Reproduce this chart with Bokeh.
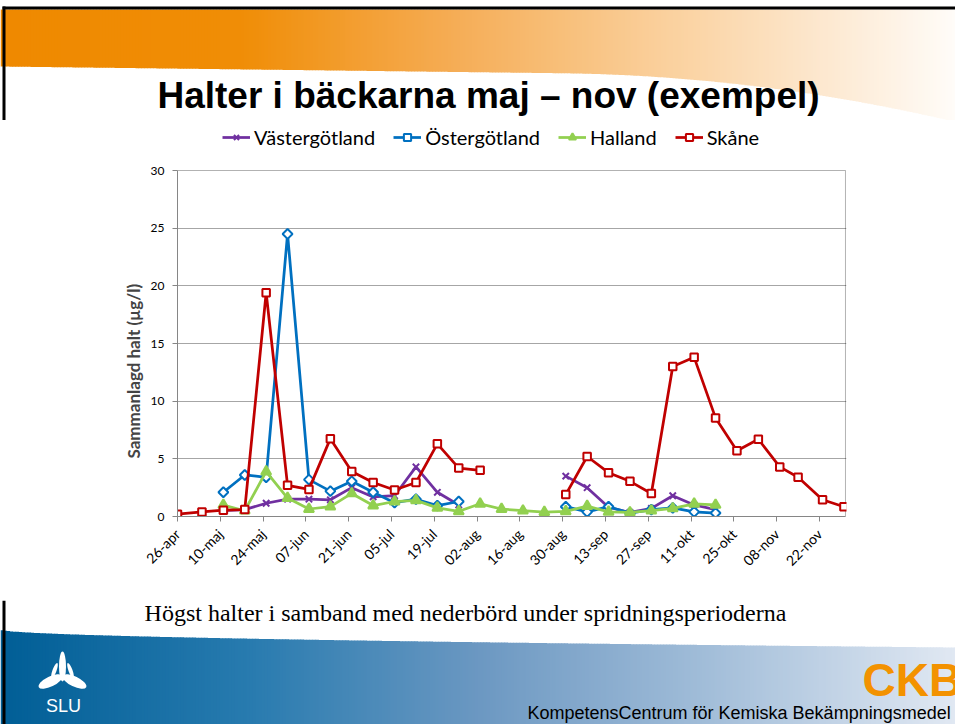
import math
import numpy as np
import pandas as pd
from bokeh.plotting import figure
from bokeh.models import Range1d, FixedTicker, Legend, LegendItem, Title, BoxAnnotation
from bokeh.embed import file_html
from bokeh.resources import INLINE
from bokeh.core.properties import value

# ---------------- data ----------------
title_text = "Halter i bäckarna maj – nov (exempel)"
caption_text = "Högst halter i samband med nederbörd under spridningsperioderna"
y_label = "Sammanlagd halt (µg/l)"

tick_dates = ["2009-04-26", "2009-05-10", "2009-05-24", "2009-06-07", "2009-06-21",
              "2009-07-05", "2009-07-19", "2009-08-02", "2009-08-16", "2009-08-30",
              "2009-09-13", "2009-09-27", "2009-10-11", "2009-10-25", "2009-11-08",
              "2009-11-22"]
tick_labels = ["26-apr", "10-maj", "24-maj", "07-jun", "21-jun", "05-jul", "19-jul",
               "02-aug", "16-aug", "30-aug", "13-sep", "27-sep", "11-okt", "25-okt",
               "08-nov", "22-nov"]
y_ticks = [0, 5, 10, 15, 20, 25, 30]
y_max = 30

vg_dates = ["2009-05-11", "2009-05-18", "2009-05-25", "2009-06-01", "2009-06-08",
            "2009-06-15", "2009-06-22", "2009-06-29", "2009-07-06", "2009-07-13",
            "2009-07-20", "2009-07-27", "2009-08-14", "2009-08-31", "2009-09-07",
            "2009-09-14", "2009-09-21", "2009-09-28", "2009-10-05", "2009-10-12",
            "2009-10-19"]
vastergotland = [0.5, 0.6, 1.15, 1.5, 1.5, 1.45, 2.5, 1.7, 1.8, 4.3, 2.1, 1.0,
                 None, 3.5, 2.5, 0.8, 0.35, 0.7, 1.8, 1.0, 0.6]

og_dates = vg_dates
ostergotland = [2.1, 3.6, 3.4, 24.5, 3.2, 2.2, 3.05, 2.1, 1.2, 1.5, 0.95, 1.3,
                None, 0.85, 0.4, 0.85, 0.3, 0.6, 0.75, 0.4, 0.3]

ha_dates = ["2009-05-11", "2009-05-18", "2009-05-25", "2009-06-01", "2009-06-08",
            "2009-06-15", "2009-06-22", "2009-06-29", "2009-07-06", "2009-07-13",
            "2009-07-20", "2009-07-27", "2009-08-03", "2009-08-10", "2009-08-17",
            "2009-08-24", "2009-08-31", "2009-09-07", "2009-09-14", "2009-09-21",
            "2009-09-28", "2009-10-05", "2009-10-12", "2009-10-19"]
halland = [1.0, 0.5, 3.9, 1.6, 0.65, 0.85, 2.0, 0.95, 1.3, 1.4, 0.75, 0.45, 1.1,
           0.65, 0.5, 0.38, 0.45, 0.9, 0.4, 0.35, 0.5, 0.7, 1.1, 1.0]

sk_dates = ["2009-04-26", "2009-05-04", "2009-05-11", "2009-05-18", "2009-05-25",
            "2009-06-01", "2009-06-08", "2009-06-15", "2009-06-22", "2009-06-29",
            "2009-07-06", "2009-07-13", "2009-07-20", "2009-07-27", "2009-08-03",
            "2009-08-17", "2009-08-31", "2009-09-07", "2009-09-14", "2009-09-21",
            "2009-09-28", "2009-10-05", "2009-10-12", "2009-10-19", "2009-10-26",
            "2009-11-02", "2009-11-09", "2009-11-15", "2009-11-23", "2009-11-30"]
skane = [0.2, 0.4, 0.55, 0.6, 19.4, 2.7, 2.35, 6.75, 3.9, 2.95, 2.3, 2.95, 6.3, 4.2,
         4.0, None, 1.9, 5.2, 3.8, 3.05, 2.0, 13.0, 13.8, 8.55, 5.7, 6.7, 4.3, 3.4,
         1.45, 0.85]

W = 955
UI_FONT = "Lato"


def blank(height):
    f = figure(width=W, height=height, x_range=Range1d(0, W), y_range=Range1d(height, 0),
               output_backend="svg", toolbar_location=None, min_border=0,
               x_axis_location=None, y_axis_location=None)
    f.grid.visible = False
    f.outline_line_color = None
    f.background_fill_color = "white"
    f.border_fill_color = "white"
    return f


def interp_color(x, stops):
    for (x0, c0), (x1, c1) in zip(stops[:-1], stops[1:]):
        if x0 <= x <= x1:
            t = (x - x0) / (x1 - x0)
            c = [int(round(a + (b - a) * t)) for a, b in zip(c0, c1)]
            return "#%02x%02x%02x" % tuple(c)
    c = stops[-1][1] if x > stops[-1][0] else stops[0][1]
    return "#%02x%02x%02x" % tuple(c)


# ---------------- top banner (page y 0..120) ----------------
TOP_H = 120
top = blank(TOP_H)
orange_stops = [(0, (239, 137, 0)), (240, (240, 141, 6)), (450, (245, 172, 84)),
                (650, (250, 206, 152)), (850, (253, 236, 216)), (960, (255, 253, 250))]
step = 3
xs = np.arange(0, W + step, step)
lefts, rights, bottoms, cols = [], [], [], []
for x in xs:
    px = x + step / 2
    yb = 66 + 0.012 * px + (44 * ((px - 560) / 395) ** 2 if px > 560 else 0)
    lefts.append(x)
    rights.append(x + step + 0.6)
    bottoms.append(yb)
    cols.append(interp_color(px, orange_stops))
top.quad(left=lefts, right=rights, top=[9] * len(xs), bottom=bottoms,
         fill_color=cols, line_color=None)
top.quad(left=[2], right=[W], top=[6], bottom=[9], fill_color="black", line_color=None)
top.quad(left=[2], right=[5], top=[6], bottom=[TOP_H], fill_color="black", line_color=None)
top.text(x=[488], y=[95], text=[title_text], text_align="center", text_baseline="middle",
         text_font=value("Liberation Sans"), text_font_style="bold",
         text_font_size="37px", text_color="black")

# ---------------- chart (page y 120..600) ----------------
# frame spans page y 122..516; values 0..30 occupy 170..516, legend sits above.
x_start = pd.Timestamp("2009-04-26")
x_end = pd.Timestamp("2009-11-30 12:00")
x_pad = pd.Timedelta(hours=8)
y_top = y_max * 394 / 346
p = figure(width=W, height=480, x_axis_type="datetime",
           x_range=Range1d(x_start, x_end + x_pad), y_range=Range1d(0, y_top),
           output_backend="svg", toolbar_location=None,
           min_border_left=177, min_border_right=109, min_border_top=2,
           min_border_bottom=84)
p.background_fill_color = "white"
p.border_fill_color = "white"
p.outline_line_color = None
p.xgrid.visible = False
p.ygrid.ticker = FixedTicker(ticks=[t for t in y_ticks if 0 < t < y_max])
p.ygrid.grid_line_color = "#a6a6a6"
p.ygrid.grid_line_width = 1
p.yaxis.ticker = FixedTicker(ticks=y_ticks)
p.yaxis.bounds = (0, y_max)

tick_ms = [float(pd.Timestamp(d).value // 10**6) for d in tick_dates]
p.xaxis.ticker = FixedTicker(ticks=tick_ms)
p.xaxis.major_label_overrides = {t: lab for t, lab in zip(tick_ms, tick_labels)}
p.xaxis.major_label_orientation = math.pi / 4
p.xaxis.bounds = (x_start, x_end)

# plot-area border (black top/right like the original)
p.add_layout(BoxAnnotation(left=x_start, right=x_end, bottom=0, top=y_max,
                           fill_alpha=0, line_color="black", line_width=1,
                           level="underlay"))

for ax in (p.xaxis[0], p.yaxis[0]):
    ax.axis_line_color = "#868686"
    ax.major_tick_line_color = "#868686"
    ax.major_tick_out = 5
    ax.major_tick_in = 0
    ax.minor_tick_line_color = None
    ax.major_label_text_font = UI_FONT
    ax.major_label_text_color = "black"
p.yaxis.major_label_text_font_size = "12px"
p.yaxis.major_label_standoff = 8
p.xaxis.major_label_text_font_size = "14px"
p.xaxis.major_label_standoff = 10

p.add_layout(Title(text=y_label, align="left", offset=58, text_font=UI_FONT,
                   text_font_size="17px", text_font_style="bold", standoff=7), "left")

series = [
    ("Västergötland", vg_dates, vastergotland, "#7030A0", "x", 9, "#7030A0", 0),
    ("Östergötland", og_dates, ostergotland, "#0070C0", "square", 7, "white", math.pi / 4),
    ("Halland", ha_dates, halland, "#92D050", "triangle", 10, "#92D050", 0),
    ("Skåne", sk_dates, skane, "#C00000", "square", 7.5, "white", 0),
]
items = []
for name, dts, vals, color, marker, size, fill, ang in series:
    xv = pd.to_datetime(dts)
    yv = np.array([np.nan if v is None else v for v in vals], dtype=float)
    rl = p.line(xv, yv, line_color=color, line_width=2.75)
    rs = p.scatter(xv, yv, marker=marker, size=size, angle=ang, line_color=color,
                   fill_color=fill, line_width=2)
    items.append(LegendItem(label=name, renderers=[rl, rs]))

legend = Legend(items=items, location=(45, 367), orientation="horizontal",
                border_line_color=None, background_fill_alpha=0, padding=0, margin=0,
                spacing=18, glyph_width=28, glyph_height=18, label_standoff=4,
                label_text_font=UI_FONT, label_text_font_size="20px",
                label_text_color="black")
p.add_layout(legend, "center")

# ---------------- bottom banner (page y 600..724) ----------------
BOT_H = 124
Y0 = 600
bot = blank(BOT_H)
blue_stops = [(0, (0, 94, 150)), (250, (40, 123, 175)), (480, (108, 152, 194)),
              (700, (160, 188, 216)), (960, (226, 233, 243))]
lefts, rights, tops, cols = [], [], [], []
for x in xs:
    px = x + step / 2
    yt = 629 + 18 * math.sqrt(max(px, 0) / 955)
    lefts.append(x)
    rights.append(x + step + 0.6)
    tops.append(yt - Y0)
    cols.append(interp_color(px, blue_stops))
bot.quad(left=lefts, right=rights, top=tops, bottom=[BOT_H] * len(xs),
         fill_color=cols, line_color=None)
bot.quad(left=[2], right=[5], top=[0], bottom=[BOT_H], fill_color="black", line_color=None)
bot.text(x=[465], y=[612 - Y0], text=[caption_text], text_align="center",
         text_baseline="middle", text_font=value("Liberation Serif"),
         text_font_size="24px", text_color="black")
# SLU logo (simplified)
bot.ellipse(x=[62], y=[666 - Y0], width=[7], height=[30], fill_color="white", line_color=None)
bot.ellipse(x=[50, 74], y=[681 - Y0, 681 - Y0], width=[26, 26], height=[10, 10],
            angle=[0.45, -0.45], fill_color="white", line_color=None)
bot.ellipse(x=[54, 70], y=[670 - Y0, 670 - Y0], width=[4, 4], height=[16, 16],
            angle=[-0.35, 0.35], fill_color="white", line_color=None)
bot.text(x=[63], y=[705 - Y0], text=["SLU"], text_align="center", text_baseline="middle",
         text_font=value("Liberation Sans"), text_font_size="18px", text_color="white")
bot.text(x=[862], y=[679 - Y0], text=["CKB"], text_align="left", text_baseline="middle",
         text_font=value("Liberation Sans"), text_font_style="bold",
         text_font_size="46px", text_color="#F39200")
bot.text(x=[527], y=[712 - Y0], text=["KompetensCentrum för Kemiska Bekämpningsmedel"],
         text_align="left", text_baseline="middle",
         text_font=value("Liberation Sans"), text_font_size="18px", text_color="black")

open("out.html", "w").write(file_html([top, p, bot], INLINE))
